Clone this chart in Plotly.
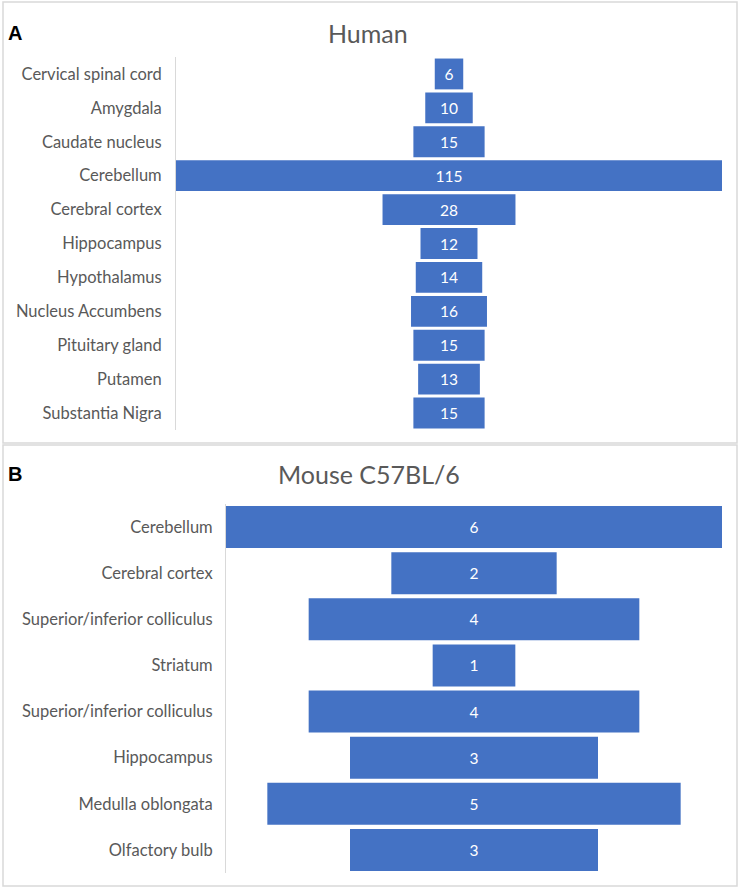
import plotly.graph_objects as go

W, H = 739, 889

human_regions = ["Cervical spinal cord", "Amygdala", "Caudate nucleus", "Cerebellum",
                 "Cerebral cortex", "Hippocampus", "Hypothalamus", "Nucleus Accumbens",
                 "Pituitary gland", "Putamen", "Substantia Nigra"]
human_values = [6, 10, 15, 115, 28, 12, 14, 16, 15, 13, 15]

mouse_regions = ["Cerebellum", "Cerebral cortex", "Superior/inferior colliculus", "Striatum",
                 "Superior/inferior colliculus", "Hippocampus", "Medulla oblongata", "Olfactory bulb"]
mouse_values = [6, 2, 4, 1, 4, 3, 5, 3]

BAR = "#4472C4"
GREY = "#595959"
FONT = "Lato"

def px(x):
    return x / W

def py(y):
    return 1 - y / H

h_pos = list(range(len(human_regions)))
m_pos = list(range(len(mouse_regions)))

fig = go.Figure()
fig.add_trace(go.Bar(
    y=h_pos, x=human_values, base=[-v / 2 for v in human_values],
    orientation="h", marker=dict(color=BAR, line=dict(width=0)),
    text=[str(v) for v in human_values], textposition="inside", insidetextanchor="middle",
    textfont=dict(color="white", size=15.5, family=FONT),
    xaxis="x", yaxis="y", hoverinfo="skip"))
fig.add_trace(go.Bar(
    y=m_pos, x=mouse_values, base=[-v / 2 for v in mouse_values],
    orientation="h", marker=dict(color=BAR, line=dict(width=0)),
    text=[str(v) for v in mouse_values], textposition="inside", insidetextanchor="middle",
    textfont=dict(color="white", size=15.5, family=FONT),
    xaxis="x2", yaxis="y2", hoverinfo="skip"))

hmax = max(human_values) / 2
mmax = max(mouse_values) / 2

fig.update_layout(
    width=W, height=H, margin=dict(l=0, r=0, t=0, b=0),
    paper_bgcolor="white", plot_bgcolor="white", showlegend=False,
    bargap=0.09, uniformtext=dict(mode=False),
    font=dict(family=FONT, color=GREY),
    xaxis=dict(domain=[px(176), px(722)], range=[-hmax, hmax], visible=False, fixedrange=True),
    yaxis=dict(domain=[py(430), py(57)], anchor="x", range=[len(h_pos) - 0.5, -0.5],
               tickmode="array", tickvals=h_pos, ticktext=human_regions,
               showline=True, linecolor="#d9d9d9", linewidth=1, ticks="", ticklabelstandoff=10,
               tickfont=dict(size=16.5, color=GREY, family=FONT), showgrid=False, zeroline=False),
    xaxis2=dict(domain=[px(226), px(722)], range=[-mmax, mmax], visible=False, anchor="y2"),
    yaxis2=dict(domain=[py(873), py(504)], anchor="x2", range=[len(m_pos) - 0.5, -0.5],
                tickmode="array", tickvals=m_pos, ticktext=mouse_regions,
                showline=True, linecolor="#d9d9d9", linewidth=1, ticks="", ticklabelstandoff=9,
                tickfont=dict(size=16.5, color=GREY, family=FONT), showgrid=False, zeroline=False),
    shapes=[
        dict(type="rect", xref="paper", yref="paper", x0=px(3), x1=px(737), y0=py(443), y1=py(2),
             line=dict(color="#d9d9d9", width=1.5), fillcolor="rgba(0,0,0,0)", layer="below"),
        dict(type="rect", xref="paper", yref="paper", x0=px(3), x1=px(737), y0=py(886), y1=py(445),
             line=dict(color="#d9d9d9", width=1.5), fillcolor="rgba(0,0,0,0)", layer="below"),
    ],
    annotations=[
        dict(text="Human", xref="paper", yref="paper", x=px(368), y=py(33), showarrow=False,
             font=dict(size=25, color=GREY, family=FONT), xanchor="center", yanchor="middle"),
        dict(text="Mouse C57BL/6", xref="paper", yref="paper", x=px(369), y=py(474), showarrow=False,
             font=dict(size=25, color=GREY, family=FONT), xanchor="center", yanchor="middle"),
        dict(text="<b>A</b>", xref="paper", yref="paper", x=px(6), y=py(33), showarrow=False,
             font=dict(size=20, color="black", family="Liberation Sans"), xanchor="left", yanchor="middle"),
        dict(text="<b>B</b>", xref="paper", yref="paper", x=px(6), y=py(474), showarrow=False,
             font=dict(size=20, color="black", family="Liberation Sans"), xanchor="left", yanchor="middle"),
    ],
)

fig.write_html("out.html", config={"displayModeBar": False},
               post_script="document.body.style.margin='0';document.body.style.padding='0';")
